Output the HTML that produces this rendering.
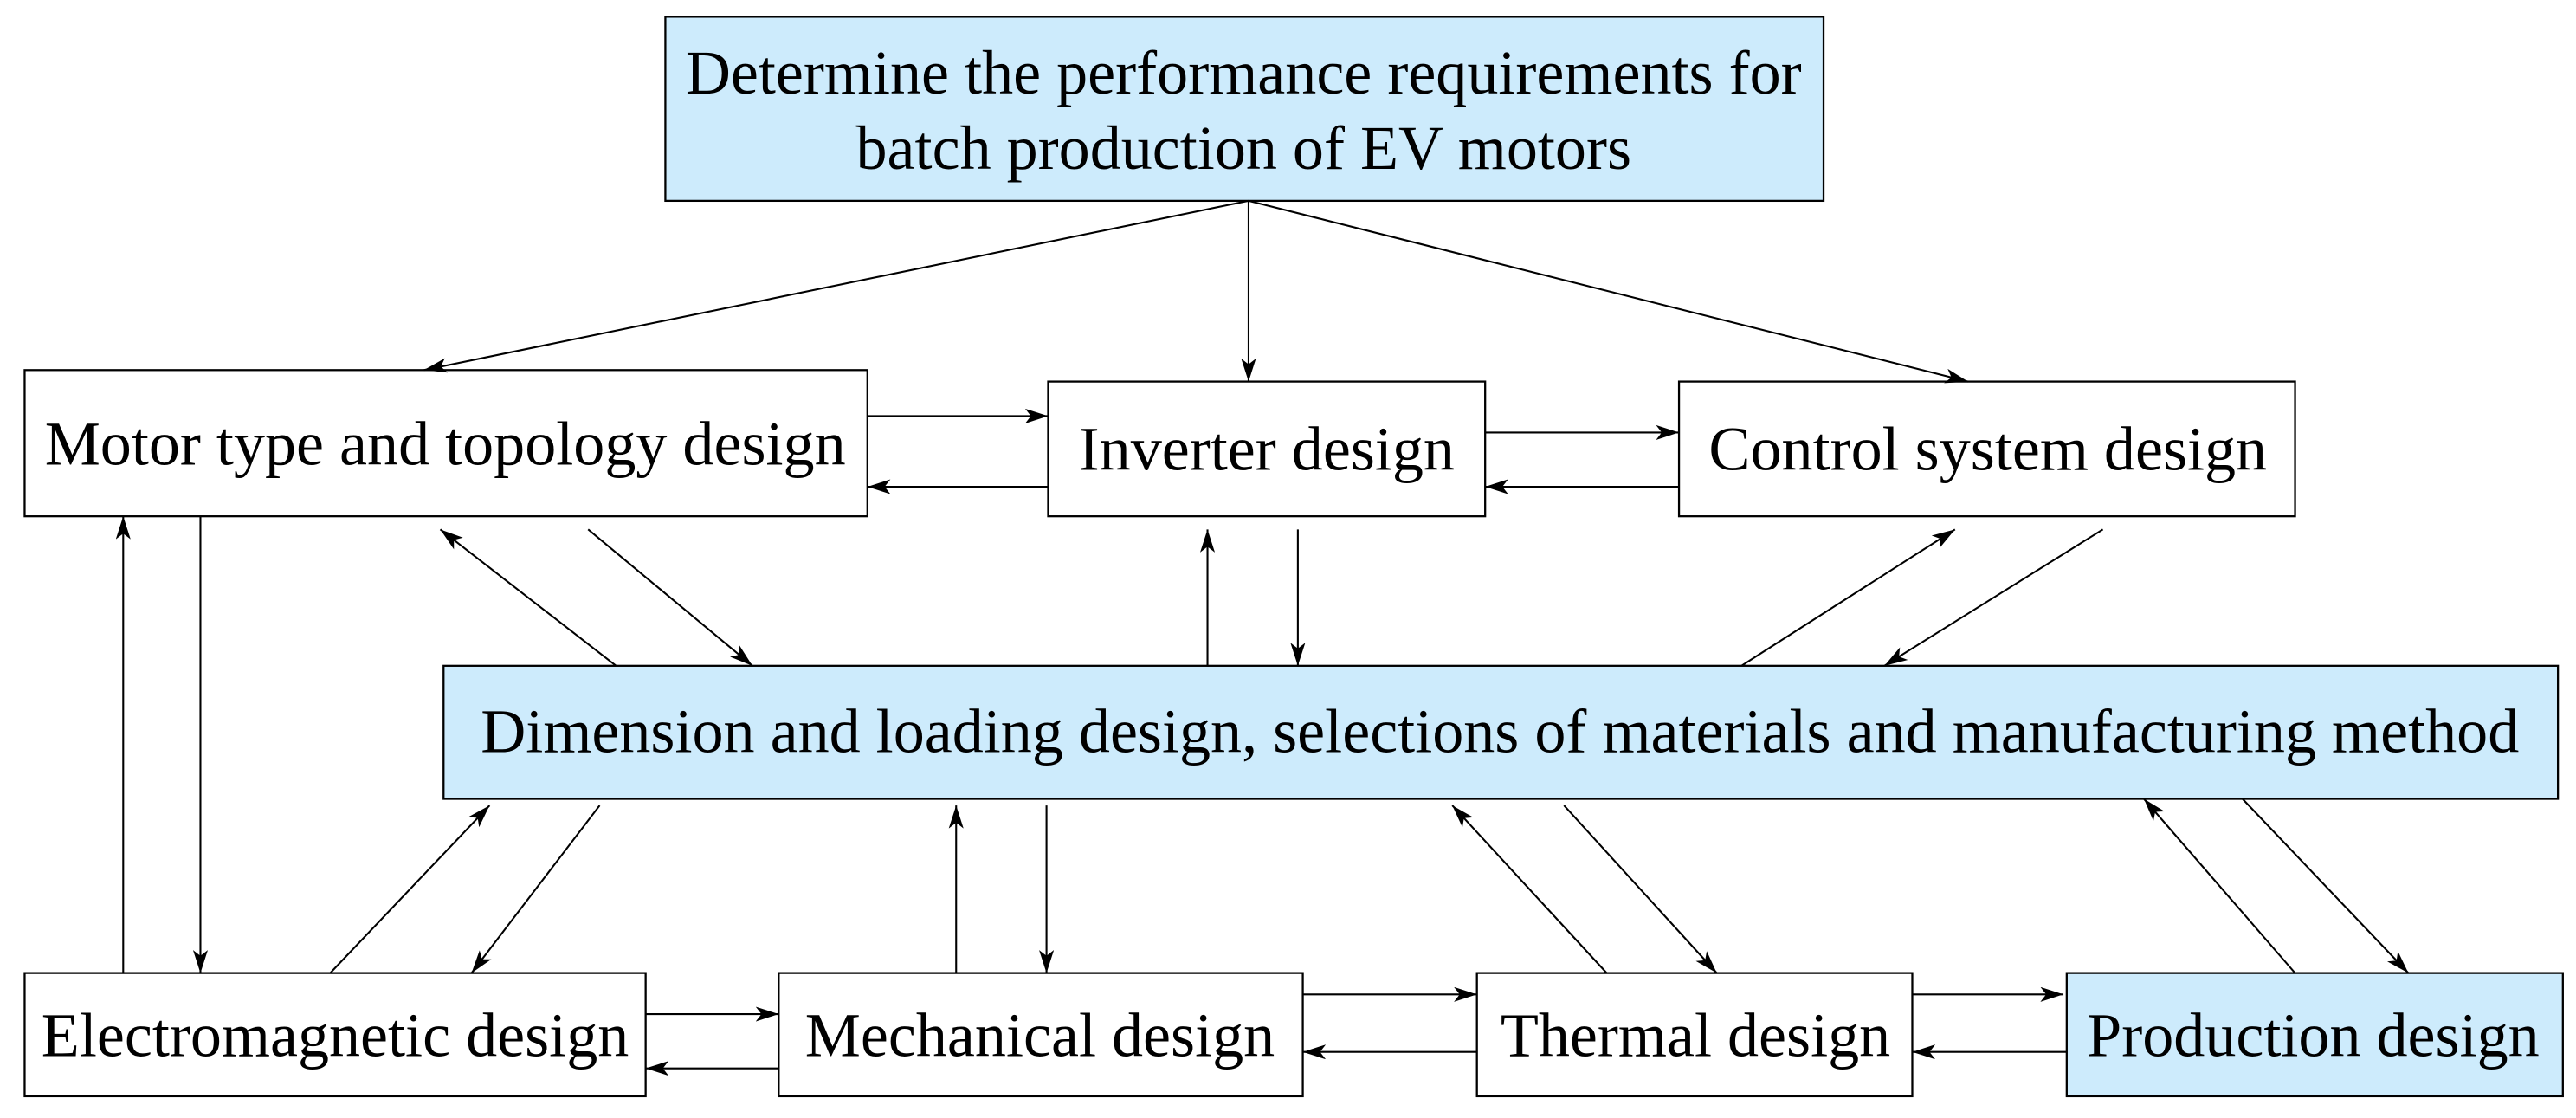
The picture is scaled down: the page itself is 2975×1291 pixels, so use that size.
<!DOCTYPE html>
<html><head><meta charset="utf-8"><style>
html,body{margin:0;padding:0;background:#fff;}
svg{display:block;}
text{font-family:"Liberation Serif",serif;font-size:38px;fill:#000;text-anchor:middle;dominant-baseline:central;}
</style></head><body>
<svg width="2975" height="1291" viewBox="0 0 1568 680" xmlns="http://www.w3.org/2000/svg">
<defs>
<marker id="a" viewBox="0 0 14 9" refX="14" refY="4.5" markerWidth="14" markerHeight="9" markerUnits="userSpaceOnUse" orient="auto">
<path d="M0,0 L14,4.5 L0,9 L3.5,4.5 Z" fill="#000"/>
</marker>
</defs>
<g stroke="#000" stroke-width="1.2">
<rect x="405" y="10" width="705" height="112" fill="#cdebfc"/>
<rect x="15" y="225" width="513" height="89" fill="#fff"/>
<rect x="638" y="232" width="266" height="82" fill="#fff"/>
<rect x="1022" y="232" width="375" height="82" fill="#fff"/>
<rect x="270" y="405" width="1287" height="81" fill="#cdebfc"/>
<rect x="15" y="592" width="378" height="75" fill="#fff"/>
<rect x="474" y="592" width="319" height="75" fill="#fff"/>
<rect x="899" y="592" width="265" height="75" fill="#fff"/>
<rect x="1258" y="592" width="302" height="75" fill="#cdebfc"/>
</g>
<g stroke="#000" stroke-width="1.1" marker-end="url(#a)">
<line x1="760" y1="122" x2="258" y2="225"/>
<line x1="760" y1="122" x2="760" y2="232"/>
<line x1="760" y1="122" x2="1198" y2="232"/>
<line x1="528" y1="253" x2="638" y2="253"/>
<line x1="638" y1="296" x2="528" y2="296"/>
<line x1="904" y1="263" x2="1022" y2="263"/>
<line x1="1022" y1="296" x2="904" y2="296"/>
<line x1="122" y1="314" x2="122" y2="592"/>
<line x1="75" y1="592" x2="75" y2="314"/>
<line x1="375" y1="405" x2="268" y2="322"/>
<line x1="358" y1="322" x2="458" y2="405"/>
<line x1="735" y1="405" x2="735" y2="322"/>
<line x1="790" y1="322" x2="790" y2="405"/>
<line x1="1060" y1="405" x2="1190" y2="322"/>
<line x1="1280" y1="322" x2="1147" y2="405"/>
<line x1="201" y1="592" x2="298" y2="490"/>
<line x1="365" y1="490" x2="287" y2="592"/>
<line x1="582" y1="592" x2="582" y2="490"/>
<line x1="637" y1="490" x2="637" y2="592"/>
<line x1="978" y1="592" x2="884" y2="490"/>
<line x1="952" y1="490" x2="1045" y2="592"/>
<line x1="1397" y1="592" x2="1305" y2="486"/>
<line x1="1365" y1="486" x2="1466" y2="592"/>
<line x1="393" y1="617" x2="474" y2="617"/>
<line x1="474" y1="650" x2="393" y2="650"/>
<line x1="793" y1="605" x2="899" y2="605"/>
<line x1="899" y1="640" x2="793" y2="640"/>
<line x1="1164" y1="605" x2="1256" y2="605"/>
<line x1="1258" y1="640" x2="1164" y2="640"/>
</g>
<text x="757" y="44">Determine the performance requirements for</text>
<text x="757" y="90">batch production of EV motors</text>
<text x="271" y="270">Motor type and topology design</text>
<text x="771" y="273">Inverter design</text>
<text x="1210" y="273">Control system design</text>
<text x="913" y="445">Dimension and loading design, selections of materials and manufacturing method</text>
<text x="204" y="630">Electromagnetic design</text>
<text x="633" y="630">Mechanical design</text>
<text x="1032" y="630">Thermal design</text>
<text x="1408" y="630">Production design</text>
</svg>
</body></html>
